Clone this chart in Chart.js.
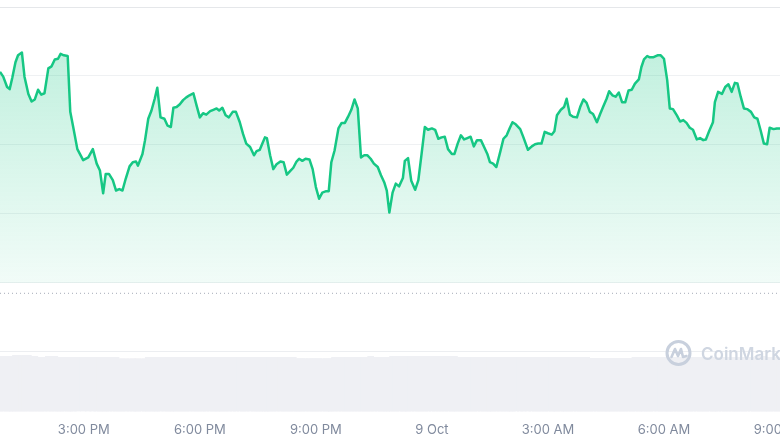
<!DOCTYPE html>
<html>
<head>
<meta charset="utf-8">
<style>
  html, body { margin: 0; padding: 0; background: #fff; overflow: hidden; }
  #wrap { width: 840px; height: 450px; }
</style>
</head>
<body>
<div id="wrap"><canvas id="priceChart" width="840" height="450"></canvas></div>

<script src="https://cdn.jsdelivr.net/npm/chart.js"></script>
<script>
// minutes since midnight, 8 Oct
const times = [
  770, 775, 781, 785, 789, 794, 798, 804, 808, 814, 819, 824, 829, 834, 839, 845, 850, 855, 860, 864,
  869, 875, 879, 884, 890, 899, 907, 914, 920, 925, 930, 934, 939, 945, 950, 955, 960, 965,
  971, 976, 981, 984, 991, 995, 1000, 1005, 1010, 1014, 1019, 1025, 1030, 1035, 1039, 1044, 1049, 1054, 1059, 1064,
  1070, 1075, 1080, 1085, 1090, 1096, 1101, 1106, 1110, 1115, 1120, 1125, 1131, 1136, 1142, 1147, 1152, 1158, 1164, 1168,
  1173, 1177, 1181, 1184, 1189, 1194, 1199, 1205, 1210, 1215, 1220, 1225, 1230, 1234, 1239, 1244, 1250, 1255, 1260, 1265,
  1270, 1276, 1280, 1284, 1289, 1295, 1300, 1305, 1310, 1315, 1320, 1325, 1330, 1335, 1340, 1345, 1350, 1356, 1361, 1366,
  1370, 1374,
  1379, 1384, 1389, 1395, 1398, 1403, 1408, 1414, 1419, 1424, 1429, 1434, 1440, 1445, 1450, 1455, 1460, 1465, 1471, 1475,
  1480, 1485, 1490, 1495, 1500, 1505, 1510, 1516, 1521, 1526, 1530, 1535, 1540, 1546, 1551, 1556, 1561, 1565, 1570,
  1577, 1582, 1589, 1595, 1600, 1605, 1610, 1615, 1620, 1626, 1630, 1634, 1640, 1645, 1649, 1654, 1659, 1665, 1670, 1675,
  1680, 1685, 1690, 1696, 1701, 1706, 1711, 1715, 1720, 1725, 1730, 1735, 1740, 1745, 1750, 1755, 1761, 1765, 1769, 1774,
  1778, 1783, 1790, 1795, 1800, 1805, 1809, 1814, 1820, 1825, 1830, 1835, 1840, 1845, 1851, 1856, 1861, 1865, 1870, 1876,
  1879, 1884, 1890, 1895, 1900, 1905, 1910, 1914, 1919, 1924, 1929, 1935, 1940, 1945, 1950, 1955, 1960, 1964, 1970, 1975,
  1980
];

const prices = [
  3.06, 2.99, 2.84, 2.81, 2.97, 3.20, 3.30, 3.34, 2.99, 2.74, 2.63, 2.66, 2.80, 2.73, 2.75, 3.11, 3.14, 3.24, 3.25, 3.32,
  3.30, 3.29, 2.48, 2.24, 1.94, 1.78, 1.82, 1.94, 1.73, 1.63, 1.30, 1.58, 1.58, 1.49, 1.34, 1.36, 1.34, 1.51,
  1.69, 1.75, 1.76, 1.70, 1.87, 2.07, 2.38, 2.50, 2.67, 2.83, 2.40, 2.38, 2.28, 2.26, 2.54, 2.55, 2.59, 2.65, 2.69, 2.72,
  2.75, 2.57, 2.40, 2.46, 2.44, 2.49, 2.51, 2.53, 2.50, 2.54, 2.43, 2.40, 2.48, 2.48, 2.33, 2.16, 2.02, 1.97, 1.85, 1.91,
  1.93, 2.02, 2.11, 2.10, 1.85, 1.65, 1.72, 1.76, 1.75, 1.57, 1.62, 1.67, 1.76, 1.80, 1.77, 1.80, 1.79, 1.65, 1.39, 1.22,
  1.31, 1.33, 1.33, 1.75, 1.92, 2.24, 2.32, 2.32, 2.41, 2.51, 2.66, 2.53, 1.82, 1.85, 1.85, 1.80, 1.73, 1.68, 1.56, 1.46,
  1.34, 1.02,
  1.31, 1.44, 1.40, 1.52, 1.77, 1.81, 1.48, 1.35, 1.49, 1.87, 2.26, 2.22, 2.24, 2.22, 2.09, 2.11, 2.12, 1.94, 1.87, 1.87,
  2.02, 2.14, 2.08, 2.10, 2.12, 1.98, 2.07, 2.07, 1.97, 1.87, 1.75, 1.73, 1.68, 1.90, 2.09, 2.14, 2.25, 2.33, 2.30,
  2.23, 2.11, 1.93, 1.98, 2.01, 2.02, 2.02, 2.19, 2.17, 2.15, 2.20, 2.43, 2.51, 2.55, 2.67, 2.44, 2.41, 2.40, 2.55, 2.66,
  2.61, 2.48, 2.45, 2.33, 2.45, 2.56, 2.67, 2.78, 2.72, 2.70, 2.76, 2.62, 2.62, 2.79, 2.80, 2.89, 2.95, 3.13, 3.24, 3.29,
  3.27, 3.27, 3.30, 3.30, 3.25, 2.94, 2.53, 2.52, 2.43, 2.34, 2.36, 2.32, 2.25, 2.22, 2.08, 2.10, 2.07, 2.08, 2.20, 2.33,
  2.62, 2.77, 2.74, 2.84, 2.88, 2.77, 2.90, 2.89, 2.70, 2.53, 2.52, 2.48, 2.40, 2.38, 2.21, 2.02, 2.01, 2.25, 2.23, 2.24,
  2.24
];

const volumes = [
  5.5, 5.5, 5.5, 5.5, 5.5, 5.6, 5.6, 5.5, 5.6, 5.6, 5.5, 5.5, 5.4, 5.4, 5.4, 5.5, 5.5, 5.5, 5.4, 5.4,
  5.4, 5.4, 5.4, 5.4, 5.4, 5.4, 5.4, 5.4, 5.4, 5.4, 5.4, 5.4, 5.4, 5.4, 5.4, 5.25, 5.25, 5.25,
  5.25, 5.25, 5.25, 5.25, 5.25, 5.25, 5.4, 5.4, 5.4, 5.4, 5.4, 5.4, 5.4, 5.4, 5.4, 5.4, 5.4, 5.4, 5.4, 5.4,
  5.4, 5.4, 5.4, 5.4, 5.4, 5.4, 5.4, 5.4, 5.4, 5.4, 5.4, 5.4, 5.4, 5.4, 5.4, 5.4, 5.4, 5.4, 5.4, 5.4,
  5.3, 5.4, 5.4, 5.4, 5.4, 5.4, 5.4, 5.4, 5.4, 5.4, 5.4, 5.4, 5.27, 5.27, 5.27, 5.27, 5.27, 5.27, 5.27, 5.27,
  5.27, 5.27, 5.27, 5.27, 5.4, 5.4, 5.4, 5.4, 5.4, 5.4, 5.4, 5.4, 5.4, 5.4, 5.4, 5.5, 5.4, 5.4, 5.4, 5.4,
  5.4, 5.4,
  5.5, 5.5, 5.5, 5.5, 5.5, 5.5, 5.5, 5.5, 5.5, 5.5, 5.5, 5.5, 5.5, 5.5, 5.5, 5.5, 5.5, 5.5, 5.5, 5.5,
  5.4, 5.4, 5.4, 5.4, 5.4, 5.4, 5.4, 5.4, 5.4, 5.4, 5.4, 5.4, 5.4, 5.4, 5.4, 5.4, 5.4, 5.4, 5.4,
  5.4, 5.4, 5.4, 5.4, 5.4, 5.4, 5.4, 5.4, 5.4, 5.4, 5.4, 5.4, 5.4, 5.4, 5.4, 5.4, 5.4, 5.4, 5.4, 5.4,
  5.4, 5.3, 5.3, 5.3, 5.3, 5.3, 5.3, 5.3, 5.3, 5.3, 5.3, 5.3, 5.3, 5.3, 5.3, 5.4, 5.4, 5.4, 5.4, 5.4,
  5.4, 5.4, 5.4, 5.4, 5.4, 5.4, 5.4, 5.4, 5.4, 5.4, 5.4, 5.4, 5.4, 5.4, 5.4, 5.4, 5.4, 5.4, 5.4, 5.4,
  5.4, 5.4, 5.4, 5.4, 5.4, 5.4, 5.4, 5.4, 5.4, 5.4, 5.4, 5.4, 5.4, 5.5, 5.5, 5.5, 5.4, 5.4, 5.4, 5.4,
  5.4
];

const tickTimes = [900, 1080, 1260, 1440, 1620, 1800, 1980];
const tickLabels = ['3:00 PM', '6:00 PM', '9:00 PM', '9 Oct', '3:00 AM', '6:00 AM', '9:00 AM'];
const priceTicks = [0, 1, 2, 3, 4];
const refLevel = -0.15;   // dotted reference line
const volumeTop = 6;      // top line of the volume pane

const GREEN = '#16c784';

function greenFill(context) {
  const chart = context.chart;
  if (!chart.chartArea) return 'rgba(22,199,132,0.15)';
  const y = chart.scales.y;
  const g = chart.ctx.createLinearGradient(0, y.getPixelForValue(priceTicks[priceTicks.length - 1]), 0, y.getPixelForValue(priceTicks[0]));
  g.addColorStop(0, 'rgba(22,199,132,0.30)');
  g.addColorStop(1, 'rgba(22,199,132,0.06)');
  return g;
}

const watermark = {
  id: 'watermark',
  afterDatasetsDraw(chart) {
    const c = chart.ctx;
    const cx = 678.5, cy = 353;
    c.save();
    c.strokeStyle = '#c8d0dd';
    c.lineWidth = 3;
    c.beginPath();
    c.arc(cx, cy, 11.5, 0, Math.PI * 2);
    c.stroke();
    c.lineWidth = 2.6;
    c.lineJoin = 'round';
    c.lineCap = 'round';
    c.beginPath();
    c.moveTo(cx - 7, cy + 4);
    c.lineTo(cx - 3.5, cy - 4);
    c.lineTo(cx - 0.5, cy + 3);
    c.lineTo(cx + 2.5, cy - 4);
    c.lineTo(cx + 4.5, cy + 4);
    c.lineTo(cx + 8, cy + 3);
    c.stroke();
    c.fillStyle = '#cfd6e1';
    c.font = '600 17px Inter';
    c.textBaseline = 'alphabetic';
    c.fillText('CoinMarketCap', 701, 360);
    c.restore();
  }
};

const ctx = document.getElementById('priceChart').getContext('2d');

new Chart(ctx, {
  type: 'line',
  data: {
    datasets: [
      {
        label: 'Price',
        data: times.map((t, i) => ({ x: t, y: prices[i] })),
        borderColor: GREEN,
        borderWidth: 2.5,
        backgroundColor: greenFill,
        fill: { value: 0 },
        pointRadius: 0,
        tension: 0,
        borderJoinStyle: 'round',
        yAxisID: 'y',
        order: 0
      },
      {
        label: 'Reference',
        data: [{ x: times[0], y: refLevel }, { x: times[times.length - 1], y: refLevel }],
        borderColor: '#b7bcc6',
        borderWidth: 1.2,
        borderDash: [1, 3],
        pointRadius: 0,
        fill: false,
        yAxisID: 'y',
        order: 1
      },
      {
        type: 'bar',
        label: 'Volume',
        data: times.map((t, i) => ({ x: t, y: volumes[i] })),
        backgroundColor: '#eff0f4',
        borderWidth: 0,
        barThickness: 6,
        yAxisID: 'yv',
        order: 2
      }
    ]
  },
  options: {
    responsive: false,
    animation: false,
    layout: { padding: { top: 7, right: 60, bottom: 1, left: 0 } },
    plugins: { legend: { display: false }, tooltip: { enabled: false } },
    scales: {
      x: {
        type: 'linear',
        min: times[0],
        max: times[times.length - 1],
        offset: false,
        grid: { display: false, drawTicks: false, offset: false },
        border: { display: false },
        afterBuildTicks: axis => { axis.ticks = tickTimes.map(v => ({ value: v })); },
        ticks: {
          autoSkip: false,
          maxRotation: 0,
          padding: 11,
          color: '#808a9d',
          font: { family: 'Inter', size: 13 },
          callback: value => tickLabels[tickTimes.indexOf(value)]
        }
      },
      y: {
        position: 'left',
        min: -1.862,
        max: 4,
        afterBuildTicks: axis => { axis.ticks = priceTicks.map(v => ({ value: v })); },
        ticks: { display: false },
        border: { display: false },
        grid: {
          drawTicks: false,
          color: c => (c.tick && c.tick.value === 4 ? '#e5e7ea' : '#eff1f3')
        }
      },
      yv: {
        position: 'right',
        min: 0,
        max: 40.3,
        afterBuildTicks: axis => { axis.ticks = [{ value: volumeTop }]; },
        ticks: { display: false },
        border: { display: false },
        grid: { drawTicks: false, color: '#eceef1' }
      }
    }
  },
  plugins: [watermark]
});
</script>
</body>
</html>
